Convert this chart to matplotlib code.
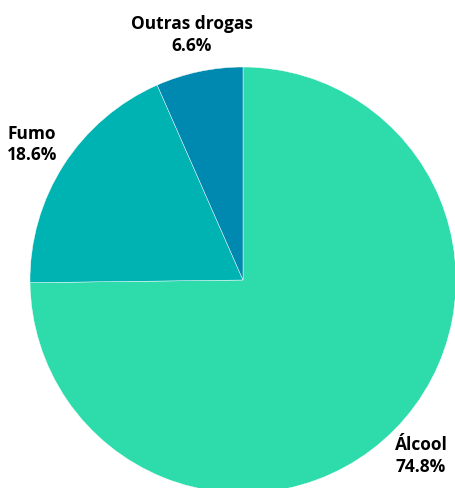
import numpy as np
import matplotlib
matplotlib.use("Agg")
import matplotlib.pyplot as plt

# data
labels = ["Álcool", "Fumo", "Outras drogas"]
values = [74.8, 18.6, 6.6]
colors = ["#2edcab", "#00b3b3", "#0089b0"]

W, H = 455, 488
fig = plt.figure(figsize=(W / 100, H / 100), dpi=100)
ax = fig.add_axes([0, 0, 1, 1])

# pie geometry in pixel units (y measured from the bottom)
cx, cy, r = 243, H - 280, 213

wedges, _ = ax.pie(values, colors=colors, startangle=90, counterclock=False,
                   center=(cx, cy), radius=r,
                   wedgeprops=dict(edgecolor="white", linewidth=0.3))

# labels placed along each wedge's mid angle
for w, lab, v in zip(wedges, labels, values):
    mid = np.deg2rad((w.theta1 + w.theta2) / 2)
    lx = cx + 1.175 * r * np.cos(mid)
    ly = cy + 1.175 * r * np.sin(mid)
    ax.text(lx, ly, f"{lab}\n{v}%", ha="center", va="center",
            multialignment="left" if lab == "Fumo" else "center",
            fontsize=12.5, fontweight="bold", family=["Open Sans", "DejaVu Sans"],
            linespacing=1.25, color="black")

ax.set_xlim(0, W)
ax.set_ylim(0, H)
ax.set_aspect("auto")
ax.axis("off")

fig.savefig("out.png", dpi=100)
